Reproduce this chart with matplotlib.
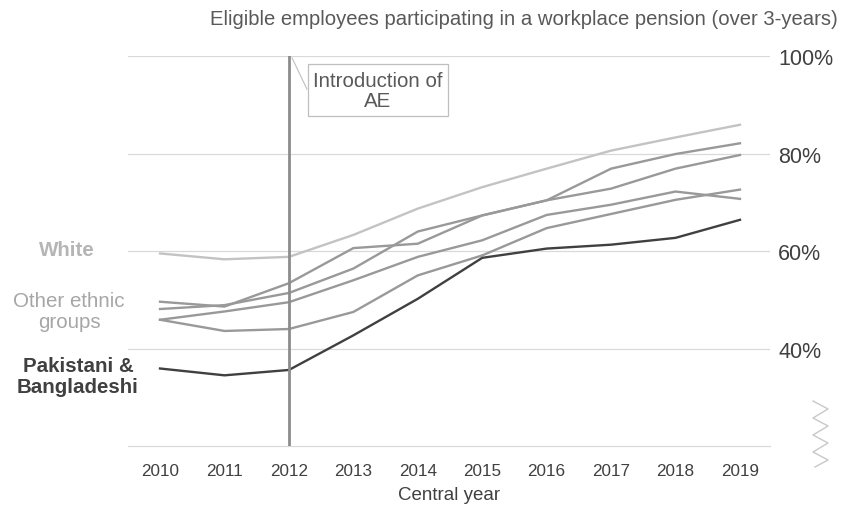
import matplotlib
matplotlib.use("Agg")
import matplotlib.pyplot as plt
from matplotlib.lines import Line2D
from matplotlib.patches import Rectangle

plt.rcParams['font.family'] = ['Liberation Sans', 'DejaVu Sans']

years = [2010, 2011, 2012, 2013, 2014, 2015, 2016, 2017, 2018, 2019]
white = [59.5, 58.3, 58.8, 63.3, 68.7, 73.1, 76.9, 80.6, 83.3, 85.9]
pakistani_bangladeshi = [35.9, 34.5, 35.6, 42.7, 50.2, 58.6, 60.5, 61.3, 62.7, 66.4]
group_a = [49.6, 48.6, 53.4, 60.6, 61.5, 67.3, 70.4, 76.9, 79.9, 82.1]
group_b = [48.1, 48.9, 51.4, 56.4, 64.0, 67.3, 70.4, 72.8, 76.9, 79.7]
other_ethnic = [45.9, 47.6, 49.5, 54.0, 58.8, 62.2, 67.4, 69.5, 72.2, 70.7]
group_d = [45.9, 43.6, 44.0, 47.5, 55.0, 59.1, 64.7, 67.6, 70.5, 72.6]
y_ticks = [40, 60, 80, 100]
y_tick_labels = ['40%', '60%', '80%', '100%']

fig = plt.figure(figsize=(8.41, 5.10), dpi=100)
ax = fig.add_axes([0.1522, 0.1235, 0.7634, 0.7647])
ax.set_xlim(2009.503, 2019.466)
ax.set_ylim(20, 100)

grid_c = '#d9d9d9'
for y in y_ticks:
    ax.axhline(y, color=grid_c, lw=0.9, zorder=0)

gray = '#999999'
for s in [group_a, group_b, other_ethnic, group_d]:
    ax.plot(years, s, color=gray, lw=1.7, zorder=3)
ax.plot(years, white, color='#c3c3c3', lw=1.7, zorder=3)
ax.plot(years, pakistani_bangladeshi, color='#404040', lw=1.7, zorder=4)

ax.axvline(2012, color='#8c8c8c', lw=2, zorder=5)

for sp in ['top', 'left', 'right']:
    ax.spines[sp].set_visible(False)
ax.spines['bottom'].set_color(grid_c)
ax.spines['bottom'].set_linewidth(0.9)

ax.set_xticks(years)
ax.set_xticklabels([str(y) for y in years], fontsize=12.3, color='#404040')
ax.yaxis.tick_right()
ax.set_yticks(y_ticks)
ax.set_yticklabels(y_tick_labels, fontsize=15.5, color='#404040')
ax.tick_params(axis='both', length=0)
ax.tick_params(axis='x', pad=12)
ax.tick_params(axis='y', pad=6)
ax.set_xlabel('Central year', fontsize=13.5, color='#404040', labelpad=6)

# annotation box
ax.add_patch(Rectangle((2012.295, 87.7), 2.172, 10.66, fill=False,
                       edgecolor='#bfbfbf', lw=0.9, clip_on=False, zorder=6))
ax.text(2013.38, 92.9, 'Introduction of\nAE', ha='center', va='center',
        fontsize=14.8, color='#595959', linespacing=1.05, zorder=7)
ax.plot([2012.05, 2012.28], [99.6, 93.2], color='#bfbfbf', lw=0.8, clip_on=False)

# series labels
ax.text(2008.557, 60.4, 'White', ha='center', va='center', fontsize=14.8,
        fontweight='bold', color='#b5b5b5', clip_on=False)
ax.text(2008.588, 47.7, 'Other ethnic\ngroups', ha='center', va='center', fontsize=14.8,
        color='#a6a6a6', linespacing=1.12, clip_on=False)
ax.text(2008.727, 34.4, 'Pakistani &\nBangladeshi', ha='center', va='center', fontsize=14.8,
        fontweight='bold', color='#404040', linespacing=1.12, clip_on=False)

fig.text(0.9964, 0.961, 'Eligible employees participating in a workplace pension (over 3-years)',
         ha='right', va='center', fontsize=14.6, color='#595959')

# axis break zigzag (decoration)
zx = [813, 828, 813, 828, 813, 828, 813, 828, 815]
zy = [402, 410, 419, 427, 436, 444, 453, 461, 468]
fig.add_artist(Line2D([x / 841 for x in zx], [1 - y / 510 for y in zy],
                      transform=fig.transFigure, color='#c8c8c8', lw=1))

fig.savefig('out.png', dpi=100)
